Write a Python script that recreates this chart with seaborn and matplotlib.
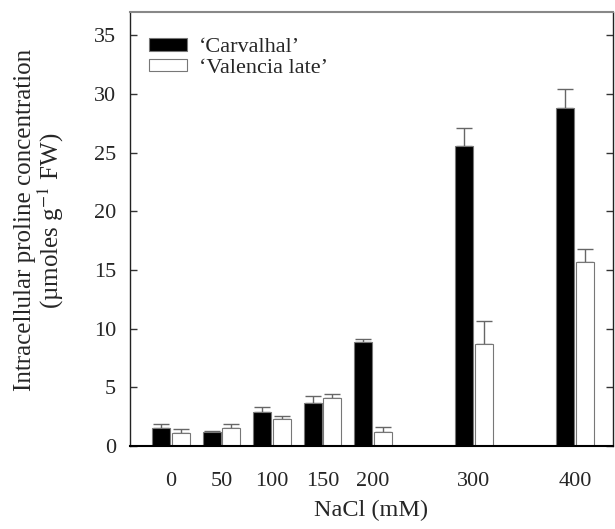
import matplotlib
matplotlib.use("Agg")
import matplotlib.pyplot as plt
import seaborn as sns
import pandas as pd
import numpy as np

nacl = [0, 50, 100, 150, 200, 300, 400]
carvalhal = [1.5, 1.2, 2.9, 3.7, 8.9, 25.6, 28.8]
carvalhal_err = [0.35, 0.05, 0.4, 0.55, 0.25, 1.5, 1.6]
valencia = [1.1, 1.5, 2.3, 4.1, 1.2, 8.7, 15.7]
valencia_err = [0.35, 0.35, 0.25, 0.3, 0.4, 1.95, 1.1]
cultivars = ["\u2018Carvalhal\u2019", "\u2018Valencia late\u2019"]

df = pd.DataFrame({
    "NaCl": nacl * 2,
    "value": carvalhal + valencia,
    "cultivar": [cultivars[0]] * len(nacl) + [cultivars[1]] * len(nacl),
})

sns.set_style("ticks")
plt.rcParams["font.family"] = ["Liberation Serif", "DejaVu Serif"]
plt.rcParams["mathtext.fontset"] = "stix"

fig = plt.figure(figsize=(6.15, 5.29), dpi=100)
ax = fig.add_axes([0.2114, 0.1569, 0.7853, 0.8204])

sns.barplot(data=df, x="NaCl", y="value", hue="cultivar", native_scale=True,
            palette=["black", "white"], width=0.78, gap=0.08, errorbar=None,
            edgecolor="#777777", linewidth=0.8, ax=ax, legend=True)

errs = [carvalhal_err, valencia_err]
vals = [carvalhal, valencia]
for cont, v, e in zip(ax.containers, vals, errs):
    xs = [b.get_x() + b.get_width() / 2 for b in cont]
    ax.errorbar(xs, v, yerr=[np.zeros(len(e)), e], fmt="none",
                ecolor="#666666", elinewidth=1.0, capsize=6, capthick=1.0, zorder=1)
    for b in cont:
        b.set_zorder(2)

ax.set_xlim(-40.6, 437.6)
ax.set_ylim(0, 37)
ax.set_xticks(nacl)
ax.set_xticklabels([str(n) for n in nacl])
ax.set_yticks(range(0, 36, 5))
ax.tick_params(axis="x", length=0, pad=19, labelsize=16)
ax.tick_params(axis="y", direction="in", length=5, width=1, pad=10, labelsize=16,
               right=True, color="#333333")

for s in ["left", "right"]:
    ax.spines[s].set_visible(True)
    ax.spines[s].set_color("#222222")
    ax.spines[s].set_linewidth(1.0)
ax.spines["top"].set_visible(True)
ax.spines["top"].set_color("#888888")
ax.spines["top"].set_linewidth(1.5)
ax.spines["bottom"].set_color("black")
ax.spines["bottom"].set_linewidth(1.5)

ax.set_xlabel("NaCl (mM)", fontsize=17.5, labelpad=6)
ax.set_ylabel("Intracellular proline concentration\n(\u00b5moles g$^{-1}$ FW)",
              fontsize=18, labelpad=20, linespacing=1.0)
ax.yaxis.label.set_y(0.52)

leg = ax.legend(loc="upper left", bbox_to_anchor=(0.02, 0.96), frameon=False,
                fontsize=16, handlelength=1.75, handleheight=0.5,
                handletextpad=0.5, labelspacing=0.05, borderaxespad=0)

fig.savefig("out.png", dpi=100)
